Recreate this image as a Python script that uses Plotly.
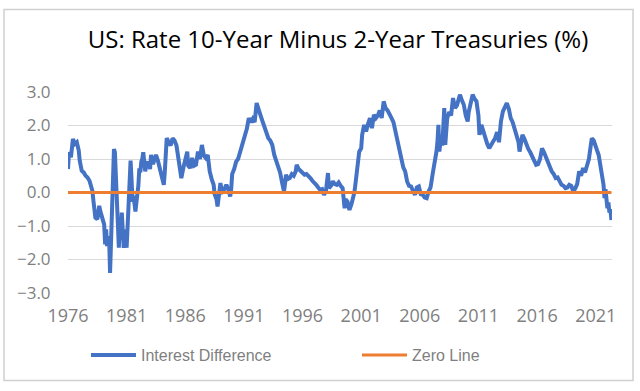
import plotly.graph_objects as go

title_text = "US: Rate 10-Year Minus 2-Year Treasuries (%)"

dates = [
    "1976-07", "1976-08", "1976-10", "1976-12", "1977-02", "1977-04", "1977-06", "1977-07", "1977-09", "1977-11",
    "1978-01", "1978-03", "1978-05", "1978-07", "1978-08", "1978-09", "1978-10", "1978-11", "1979-01", "1979-02",
    "1979-03", "1979-04", "1979-06", "1979-08", "1979-09", "1979-10", "1979-11", "1980-01", "1980-02", "1980-03",
    "1980-04", "1980-05", "1980-06", "1980-07", "1980-08", "1980-09", "1980-10", "1980-11", "1980-12", "1981-01",
    "1981-02", "1981-03", "1981-04", "1981-05", "1981-06", "1981-07", "1981-08", "1981-09", "1981-10", "1981-11",
    "1981-12", "1982-01", "1982-02", "1982-03", "1982-04", "1982-05", "1982-06", "1982-07", "1982-08", "1982-09",
    "1982-10", "1982-11", "1982-12", "1983-01", "1983-02", "1983-03", "1983-05", "1983-07", "1983-08", "1983-10",
    "1984-01", "1984-03", "1984-05", "1984-07", "1984-09", "1984-10", "1984-11", "1984-12", "1985-02", "1985-04",
    "1985-06", "1985-08", "1985-10", "1985-12", "1986-02", "1986-03", "1986-05", "1986-07", "1986-09", "1986-10",
    "1986-12", "1987-02", "1987-04", "1987-06", "1987-08", "1987-10", "1987-12", "1988-02", "1988-04", "1988-06",
    "1988-08", "1988-10", "1988-12", "1989-01", "1989-03", "1989-04", "1989-05", "1989-06", "1989-07", "1989-08",
    "1989-09", "1989-11", "1990-01", "1990-03", "1990-05", "1990-06", "1990-07", "1990-09", "1990-11", "1991-01",
    "1991-03", "1991-04", "1991-06", "1991-08", "1991-10", "1991-12", "1992-02", "1992-04", "1992-06", "1992-08",
    "1992-09", "1992-10", "1992-12", "1993-02", "1993-04", "1993-06", "1993-08", "1993-10", "1993-12", "1994-02",
    "1994-04", "1994-06", "1994-08", "1994-10", "1994-12", "1995-01", "1995-02", "1995-04", "1995-06", "1995-08",
    "1995-10", "1995-12", "1996-01", "1996-03", "1996-05", "1996-07", "1996-09", "1996-11", "1997-01", "1997-03",
    "1997-05", "1997-07", "1997-09", "1997-11", "1998-01", "1998-03", "1998-05", "1998-07", "1998-09", "1998-10",
    "1998-12", "1999-02", "1999-04", "1999-06", "1999-08", "1999-10", "1999-12", "2000-02", "2000-03", "2000-05",
    "2000-07", "2000-09", "2000-11", "2000-12", "2001-01", "2001-03", "2001-05", "2001-07", "2001-08", "2001-10",
    "2001-12", "2002-02", "2002-04", "2002-06", "2002-08", "2002-10", "2002-12", "2003-02", "2003-04", "2003-06",
    "2003-08", "2003-10", "2003-12", "2004-02", "2004-04", "2004-06", "2004-08", "2004-10", "2004-12", "2005-02",
    "2005-04", "2005-06", "2005-08", "2005-10", "2005-12", "2006-02", "2006-04", "2006-06", "2006-08", "2006-10",
    "2006-12", "2007-02", "2007-04", "2007-06", "2007-08", "2007-10", "2007-12", "2008-01", "2008-02", "2008-03",
    "2008-05", "2008-06", "2008-08", "2008-09", "2008-11", "2009-01", "2009-03", "2009-05", "2009-07", "2009-09",
    "2009-12", "2010-02", "2010-04", "2010-06", "2010-08", "2010-09", "2010-11", "2011-01", "2011-03", "2011-05",
    "2011-07", "2011-08", "2011-10", "2011-12", "2012-02", "2012-04", "2012-06", "2012-08", "2012-10", "2012-12",
    "2013-02", "2013-04", "2013-06", "2013-08", "2013-10", "2013-12", "2014-02", "2014-04", "2014-06", "2014-08",
    "2014-10", "2014-12", "2015-01", "2015-03", "2015-04", "2015-06", "2015-08", "2015-10", "2015-12", "2016-02",
    "2016-04", "2016-06", "2016-08", "2016-10", "2016-12", "2017-02", "2017-04", "2017-06", "2017-08", "2017-10",
    "2017-12", "2018-02", "2018-04", "2018-06", "2018-08", "2018-10", "2018-12", "2019-02", "2019-04", "2019-06",
    "2019-08", "2019-10", "2019-12", "2020-02", "2020-04", "2020-06", "2020-08", "2020-10", "2020-12", "2021-01",
    "2021-03", "2021-05", "2021-07", "2021-09", "2021-10", "2021-12", "2022-01", "2022-03", "2022-04", "2022-05",
    "2022-06", "2022-07", "2022-08", "2022-09", "2022-10", "2022-11",
]

interest_difference = [
    0.70, 1.20, 1.05, 1.60, 1.45, 1.50, 1.25, 0.95, 0.65, 0.60,
    0.50, 0.45, 0.35, 0.20, 0.05, -0.25, -0.55, -0.75, -0.80, -0.60,
    -0.40, -0.55, -0.75, -0.95, -1.55, -1.10, -1.60, -1.30, -2.40, -1.30,
    -0.30, 0.60, 1.30, 1.20, 0.40, -0.30, -1.00, -1.65, -0.80, -1.40,
    -0.60, -1.00, -1.65, -1.45, -1.10, -1.65, -0.90, -0.30, 0.30, 0.95,
    0.40, -0.27, -0.10, -0.50, -0.57, -0.30, -0.07, 0.20, 0.72, 0.60,
    0.92, 1.00, 1.20, 1.00, 0.63, 0.80, 0.92, 0.70, 1.12, 0.85,
    1.12, 0.95, 0.72, 0.50, 0.23, 0.60, 1.10, 1.62, 1.50, 1.40,
    1.62, 1.55, 1.40, 1.03, 0.60, 0.43, 0.73, 0.95, 1.22, 0.80,
    0.73, 1.03, 0.80, 0.83, 1.22, 1.00, 1.42, 1.10, 1.03, 1.12,
    0.63, 0.40, 0.23, -0.05, -0.20, -0.42, -0.10, -0.07, 0.28, 0.10,
    0.03, 0.10, 0.23, 0.10, -0.12, 0.10, 0.55, 0.70, 0.92, 1.00,
    1.20, 1.32, 1.50, 1.72, 1.90, 2.22, 2.10, 2.20, 2.10, 2.67,
    2.55, 2.42, 2.30, 2.12, 1.95, 1.82, 1.62, 1.55, 1.42, 1.12,
    0.95, 0.83, 0.60, 0.30, 0.03, 0.25, 0.53, 0.40, 0.43, 0.55,
    0.50, 0.63, 0.83, 0.70, 0.63, 0.60, 0.53, 0.55, 0.50, 0.43,
    0.35, 0.30, 0.23, 0.15, 0.08, 0.10, -0.07, 0.05, 0.58, 0.13,
    0.20, 0.33, 0.25, 0.23, 0.30, 0.20, 0.13, -0.47, -0.20, -0.27,
    -0.52, -0.35, -0.17, 0.00, 0.23, 0.73, 1.22, 1.32, 1.72, 2.02,
    1.82, 2.05, 2.22, 1.92, 2.32, 2.22, 2.30, 2.45, 2.22, 2.72,
    2.52, 2.45, 2.30, 2.22, 2.10, 1.80, 1.62, 1.30, 1.03, 0.75,
    0.63, 0.33, 0.20, 0.18, 0.05, -0.07, 0.15, 0.18, -0.05, -0.07,
    -0.15, -0.17, 0.03, 0.15, 0.53, 0.85, 1.22, 1.50, 2.02, 1.22,
    1.72, 1.40, 2.52, 1.42, 2.22, 2.40, 2.30, 2.82, 2.52, 2.60,
    2.92, 2.75, 2.62, 2.30, 2.12, 2.40, 2.62, 2.92, 2.80, 2.72,
    2.30, 1.72, 2.02, 1.80, 1.60, 1.45, 1.32, 1.40, 1.52, 1.62,
    1.80, 1.50, 2.12, 2.42, 2.52, 2.67, 2.50, 2.22, 2.10, 1.92,
    1.70, 1.50, 1.22, 1.50, 1.72, 1.60, 1.42, 1.30, 1.20, 1.03,
    0.95, 0.83, 0.85, 1.00, 1.32, 1.20, 1.05, 0.92, 0.80, 0.63,
    0.55, 0.43, 0.45, 0.30, 0.23, 0.20, 0.13, 0.15, 0.23, 0.20,
    0.03, 0.12, 0.25, 0.63, 0.50, 0.73, 0.60, 0.80, 1.00, 1.22,
    1.62, 1.55, 1.32, 1.20, 1.12, 0.80, 0.63, 0.23, -0.17, 0.10,
    -0.20, -0.47, -0.30, -0.60, -0.50, -0.82,
]

zero_dates = [dates[0], dates[-1]]
zero_values = [0, 0]

tick_dates = ["1976-07-01", "1981-07-01", "1986-07-01", "1991-07-01", "1996-07-01",
              "2001-07-01", "2006-07-01", "2011-07-01", "2016-07-01", "2021-07-01"]
tick_labels = ["1976", "1981", "1986", "1991", "1996", "2001", "2006", "2011", "2016", "2021"]
y_ticks = [-3, -2, -1, 0, 1, 2, 3]

fig = go.Figure()
fig.add_trace(go.Scatter(
    x=dates, y=interest_difference, mode="lines", name="Interest Difference",
    line=dict(color="#4472C4", width=4),
))
fig.add_trace(go.Scatter(
    x=zero_dates, y=zero_values, mode="lines", name="Zero Line",
    line=dict(color="#ED7D31", width=3),
))

fig.update_layout(
    width=640, height=391,
    margin=dict(l=68, r=28, t=92, b=98),
    paper_bgcolor="white", plot_bgcolor="white",
    title=dict(text=title_text, x=338 / 640, xanchor="center", xref="container",
               y=1 - 40 / 391, yanchor="middle", yref="container",
               font=dict(family="Open Sans", size=24, color="#000000")),
    xaxis=dict(type="date", range=["1976-07-01", "2022-11-20"],
               tickvals=tick_dates, ticktext=tick_labels,
               showgrid=False, showline=False, zeroline=False,
               ticks="outside", ticklen=6, tickcolor="rgba(0,0,0,0)",
               automargin=False,
               tickfont=dict(family="Open Sans", size=18, color="#7F7F7F")),
    yaxis=dict(range=[-3, 3], tickvals=y_ticks, tickformat=".1f",
               showgrid=True, gridcolor="#D9D9D9", gridwidth=1,
               zeroline=False, showline=False,
               ticks="outside", ticklen=13, tickcolor="rgba(0,0,0,0)",
               automargin=False,
               tickfont=dict(family="Open Sans", size=17, color="#7F7F7F")),
    showlegend=True,
    legend=dict(orientation="h", xref="container", x=86 / 640, xanchor="left",
                yref="container", y=1 - 355 / 391, yanchor="middle",
                itemwidth=45, entrywidth=211, entrywidthmode="pixels",
                font=dict(family="Liberation Sans", size=16, color="#7F7F7F"),
                bgcolor="rgba(0,0,0,0)"),
    shapes=[dict(type="rect", xref="paper", yref="paper",
                 x0=(4 - 68) / 544, x1=(633 - 68) / 544,
                 y0=(293 - 380.5) / 201, y1=(293 - 9.5) / 201,
                 line=dict(color="#D0D0D0", width=1.5), fillcolor="rgba(0,0,0,0)",
                 layer="below")],
)

fig.write_html("out.html", config={"displayModeBar": False},
               post_script="document.body.style.margin='0';")
